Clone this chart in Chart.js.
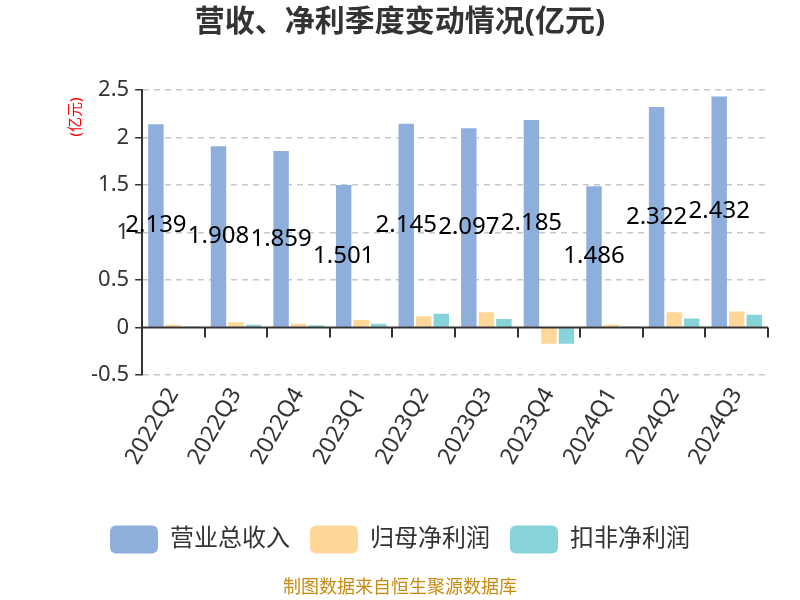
<!DOCTYPE html>
<html>
<head>
<meta charset="utf-8">
<script src="https://cdn.jsdelivr.net/npm/chart.js@4/dist/chart.umd.min.js"></script>
<style>
  html, body { margin: 0; padding: 0; background: #fff; }
  #wrap { width: 800px; height: 600px; }
</style>
</head>
<body>
<div id="wrap"><canvas id="mainChart" width="800" height="600"></canvas></div>
<script>
var quarters = ['2022Q2', '2022Q3', '2022Q4', '2023Q1', '2023Q2', '2023Q3', '2023Q4', '2024Q1', '2024Q2', '2024Q3'];
var revenue = [2.139, 1.908, 1.859, 1.501, 2.145, 2.097, 2.185, 1.486, 2.322, 2.432];
var netProfit = [0.03, 0.057, 0.04, 0.08, 0.12, 0.16, -0.17, 0.03, 0.16, 0.17];
var netProfitExcl = [0.005, 0.03, 0.025, 0.04, 0.145, 0.09, -0.17, 0.005, 0.095, 0.135];
var yTicks = [-0.5, 0, 0.5, 1, 1.5, 2, 2.5];

var FONT = '"Noto Sans", "Noto Sans CJK SC", sans-serif';

// labels inside the revenue bars, zero line ticks, y unit
var extras = {
    id: 'extras',
    afterDatasetsDraw: function (chart) {
        var ctx = chart.ctx;
        var meta = chart.getDatasetMeta(0);
        ctx.save();
        ctx.fillStyle = '#000';
        ctx.font = '24px ' + FONT;
        ctx.textAlign = 'center';
        ctx.textBaseline = 'middle';
        meta.data.forEach(function (bar, i) {
            ctx.fillText(revenue[i].toFixed(3), bar.x, (bar.y + bar.base) / 2);
        });
        ctx.restore();
    },
    afterDraw: function (chart) {
        var ctx = chart.ctx;
        var x = chart.scales.x, y = chart.scales.y;
        var y0 = y.getPixelForValue(0);
        ctx.save();
        ctx.strokeStyle = '#333';
        ctx.lineWidth = 2;
        ctx.beginPath();
        ctx.moveTo(x.left, y0);
        ctx.lineTo(x.right, y0);
        var step = (x.right - x.left) / quarters.length;
        for (var i = 1; i <= quarters.length; i++) {
            var px = Math.round(x.left + step * i);
            ctx.moveTo(px, y0);
            ctx.lineTo(px, y0 + 10);
        }
        ctx.stroke();
        ctx.translate(76, 117);
        ctx.rotate(-Math.PI / 2);
        ctx.fillStyle = '#f00';
        ctx.font = '15px ' + FONT;
        ctx.textAlign = 'center';
        ctx.textBaseline = 'middle';
        ctx.fillText('(亿元)', 0, 0);
        ctx.restore();
    }
};

var ctx = document.getElementById('mainChart').getContext('2d');
var barChart = new Chart(ctx, {
    type: 'bar',
    data: {
        labels: quarters,
        datasets: [
            { label: '营业总收入', data: revenue, backgroundColor: '#8eaedb' },
            { label: '归母净利润', data: netProfit, backgroundColor: '#ffd899' },
            { label: '扣非净利润', data: netProfitExcl, backgroundColor: '#86d4d8' }
        ]
    },
    options: {
        responsive: false,
        animation: false,
        layout: { padding: { left: 32, right: 32, top: 0, bottom: 0 } },
        datasets: {
            bar: { categoryPercentage: 0.84, barPercentage: 0.88 }
        },
        plugins: {
            title: {
                display: true,
                text: '营收、净利季度变动情况(亿元)',
                color: '#333',
                font: { family: FONT, size: 30, weight: 'bold' },
                padding: { top: 4, bottom: 50 }
            },
            subtitle: {
                display: true,
                position: 'bottom',
                text: '制图数据来自恒生聚源数据库',
                color: '#c98a10',
                font: { family: FONT, size: 18 },
                padding: { top: 14, bottom: 1 }
            },
            legend: {
                position: 'bottom',
                labels: {
                    boxWidth: 48,
                    boxHeight: 28,
                    useBorderRadius: true,
                    borderRadius: 6,
                    padding: 20,
                    color: '#333',
                    font: { family: FONT, size: 24 }
                }
            },
            tooltip: { enabled: false }
        },
        scales: {
            x: {
                grid: { display: false },
                border: { display: false },
                afterFit: function (axis) { axis.height += 36; },
                ticks: {
                    color: '#333',
                    font: { family: FONT, size: 23 },
                    minRotation: 60,
                    maxRotation: 60,
                    padding: 0
                }
            },
            y: {
                min: -0.5,
                max: 2.5,
                afterBuildTicks: function (axis) {
                    axis.ticks = yTicks.map(function (v) { return { value: v }; });
                },
                afterFit: function (axis) { axis.width += 53; },
                grid: {
                    color: function (c) { return c.tick && c.tick.value === 0 ? 'rgba(0,0,0,0)' : '#c8c8c8'; },
                    lineWidth: 1.5,
                    tickColor: '#333',
                    tickLength: 7
                },
                border: { display: true, color: '#333', width: 2, dash: [6, 5] },
                ticks: {
                    color: '#333',
                    font: { family: FONT, size: 22 },
                    padding: 6,
                    callback: function (v) { return String(v); }
                }
            }
        }
    },
    plugins: [extras]
});
</script>
</body>
</html>
